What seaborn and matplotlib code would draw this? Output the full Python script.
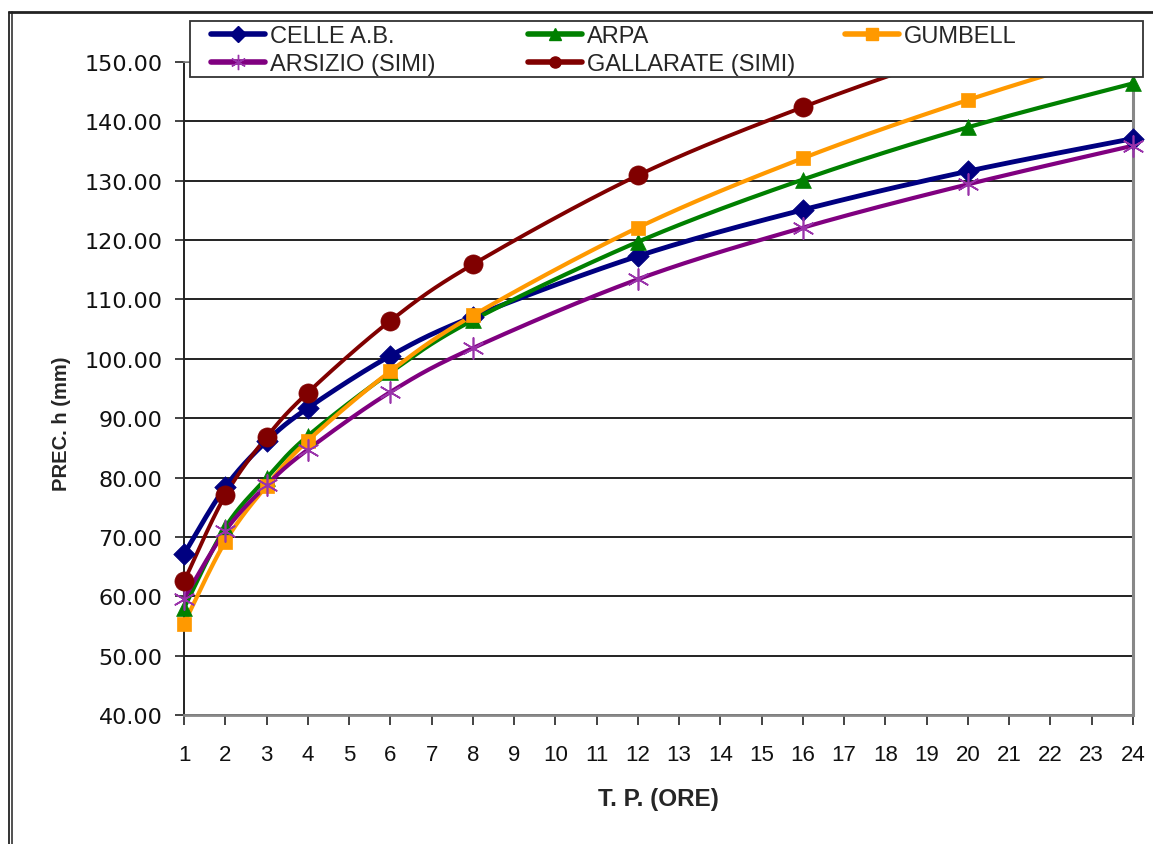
import numpy as np
import pandas as pd
import matplotlib
matplotlib.use("Agg")
import matplotlib.pyplot as plt
from matplotlib.lines import Line2D
from matplotlib.patches import Rectangle
from matplotlib.transforms import Bbox, TransformedBbox
import seaborn as sns

# Rainfall depth (mm) against duration (hours) for each station / method
hours = [1, 2, 3, 4, 6, 8, 12, 16, 20, 24]
celle = [67.1, 78.4, 86.1, 91.7, 100.5, 107.1, 117.3, 125.1, 131.6, 137.1]
arpa = [58.0, 71.6, 79.9, 87.0, 97.7, 106.5, 119.7, 130.2, 139.0, 146.4]
gumbell = [55.4, 69.2, 78.6, 86.2, 97.9, 107.3, 122.1, 133.8, 143.6, 152.2]
arsizio = [59.6, 71.0, 78.7, 84.7, 94.4, 101.8, 113.4, 122.1, 129.4, 135.9]
gallarate = [62.5, 77.0, 86.8, 94.3, 106.4, 115.9, 130.9, 142.4, 152.1, 160.4]

series_names = ["CELLE A.B.", "ARPA", "GUMBELL", "ARSIZIO (SIMI)", "GALLARATE (SIMI)"]
series_values = [celle, arpa, gumbell, arsizio, gallarate]
line_colors = ["#000080", "#008000", "#FF9900", "#800080", "#800000"]
marker_colors = ["#000080", "#008000", "#FF9900", "#9933AA", "#800000"]
markers = ["D", "^", "s", (6, 2, 0), "o"]
marker_sizes = [120, 130, 110, 230, 190]
line_widths = [3.5, 3.0, 3.0, 3.0, 2.8]

x_ticks = list(range(1, 25))
y_ticks = list(range(40, 151, 10))


def smooth(xs, ys, n=40):
    """Cardinal (Catmull-Rom) Bezier smoothing through every point."""
    p = np.column_stack([xs, ys]).astype(float)
    ext = np.vstack([p[0], p, p[-1]])
    out = []
    t = np.linspace(0, 1, n)[:, None]
    for i in range(len(p) - 1):
        p0, p1, p2, p3 = ext[i], ext[i + 1], ext[i + 2], ext[i + 3]
        c1 = p1 + (p2 - p0) / 6.0
        c2 = p2 - (p3 - p1) / 6.0
        seg = ((1 - t) ** 3) * p1 + 3 * ((1 - t) ** 2) * t * c1 + 3 * (1 - t) * t ** 2 * c2 + t ** 3 * p2
        out.append(seg if i == 0 else seg[1:])
    arr = np.vstack(out)
    return arr[:, 0], arr[:, 1]


sns.set_theme(style="white")
plt.rcParams["font.family"] = ["Liberation Sans", "DejaVu Sans"]

W, H = 1153, 845
fig = plt.figure(figsize=(W / 100, H / 100), dpi=100)
fig.patch.set_facecolor("white")
ax = fig.add_axes([184 / W, 1 - 716 / H, (1133 - 184) / W, (716 - 63) / H])
ax.set_facecolor("white")

# smoothed curves
curves = []
for name, vals in zip(series_names, series_values):
    sx, sy = smooth(hours, vals)
    curves.append(pd.DataFrame({"ore": sx, "h": sy, "serie": name}))
curve_df = pd.concat(curves, ignore_index=True)
points_df = pd.DataFrame({
    "ore": np.tile(hours, len(series_names)),
    "h": np.concatenate(series_values),
    "serie": np.repeat(series_names, len(hours)),
})

clip = TransformedBbox(Bbox([[-0.03, -0.03], [1.03, 1.0]]), ax.transAxes)
for i, name in enumerate(series_names):
    sub = curve_df[curve_df["serie"] == name]
    sns.lineplot(data=sub, x="ore", y="h", sort=False, estimator=None,
                 color=line_colors[i], linewidth=line_widths[i], ax=ax, zorder=3 + i)
for i, name in enumerate(series_names):
    sub = points_df[points_df["serie"] == name]
    if isinstance(markers[i], tuple):
        sc = ax.scatter(sub["ore"], sub["h"], marker=markers[i], s=marker_sizes[i],
                        color=marker_colors[i], linewidths=1.2, zorder=10 + i)
    else:
        sc = sns.scatterplot(data=sub, x="ore", y="h", marker=markers[i], s=marker_sizes[i],
                             color=marker_colors[i], edgecolor=marker_colors[i], linewidth=0.5,
                             ax=ax, zorder=10 + i, legend=False).collections[-1]
    sc.set_clip_box(clip)

ax.set_xlim(1, 24)
ax.set_ylim(40, 150)
ax.set_xticks(x_ticks)
ax.set_xticklabels([str(v) for v in x_ticks])
ax.set_yticks(y_ticks)
ax.set_yticklabels([f"{v:.2f}" for v in y_ticks])
ax.grid(axis="y", color="#111111", linewidth=1.3)
ax.grid(axis="x", visible=False)
ax.set_axisbelow(True)

ax.spines["left"].set_color("#222222")
ax.spines["left"].set_linewidth(1.4)
ax.spines["bottom"].set_color("#888888")
ax.spines["bottom"].set_linewidth(2.0)
ax.spines["right"].set_color("#888888")
ax.spines["right"].set_linewidth(2.2)
ax.spines["top"].set_color("#888888")
ax.spines["top"].set_linewidth(1.2)

ax.tick_params(axis="y", direction="out", length=6.5, width=1.2, color="#222222", pad=9,
               left=True, labelsize=16, labelcolor="#111111")
ax.tick_params(axis="x", direction="out", length=7, width=1.2, color="#222222", pad=14,
               bottom=True, labelsize=16, labelcolor="#111111")
for lab in ax.get_yticklabels():
    lab.set_family("DejaVu Sans")

ax.set_xlabel("T. P. (ORE)", fontsize=17.5, fontweight="bold", va="center")
ax.xaxis.set_label_coords(0.5, -0.1286)
ax.set_ylabel("PREC. h (mm)", fontsize=14.5, fontweight="bold", va="center")
ax.yaxis.set_label_coords(-0.1286, 0.447)

# legend box on top of the plot area
box = Rectangle((190 / W, 1 - 78 / H), (1143 - 190) / W, (78 - 22) / H,
                transform=fig.transFigure, facecolor="white", edgecolor="#333333",
                linewidth=1.3, zorder=4)
fig.add_artist(box)


def handle(i):
    mk = markers[i]
    return Line2D([], [], color=line_colors[i], linewidth=4.0, marker=mk,
                  markersize=8 if mk != (6, 2, 0) else 11,
                  markerfacecolor=marker_colors[i], markeredgecolor=marker_colors[i],
                  markeredgewidth=1.0)


columns = [([0, 3], 211), ([1, 4], 528), ([2], 845)]
for idx, xpix in columns:
    leg = fig.legend([handle(i) for i in idx], [series_names[i] for i in idx],
                     loc="upper left", bbox_to_anchor=(xpix / W, 1 - 26 / H),
                     bbox_transform=fig.transFigure, frameon=False, fontsize=17,
                     borderpad=0, borderaxespad=0, handlelength=2.3, handletextpad=0.2,
                     labelspacing=0.26)
    leg.set_zorder(6)

# double border of the chart area
for off, lw in [(9, 1.4), (12, 1.2)]:
    fig.add_artist(Line2D([off / W, off / W], [0, 1 - 12.5 / H], transform=fig.transFigure,
                          color="#333333", linewidth=lw))
fig.add_artist(Line2D([9 / W, 1], [1 - 12.5 / H, 1 - 12.5 / H],
                      transform=fig.transFigure, color="#222222", linewidth=2.0))

fig.savefig("out.png", dpi=100)
